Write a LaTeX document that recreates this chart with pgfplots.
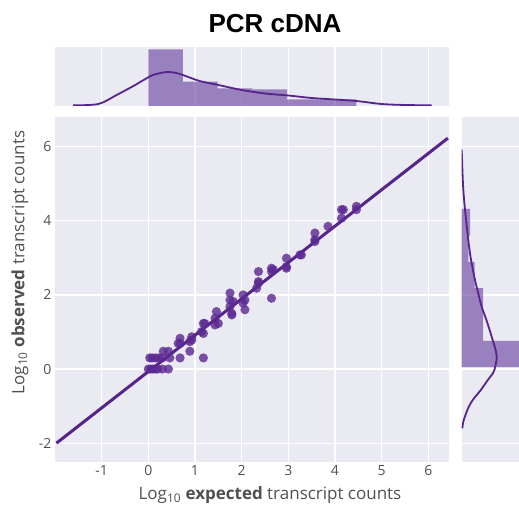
\documentclass[border=0pt]{standalone}
\usepackage{pgfplots}
\pgfplotsset{compat=1.18}
\usepackage{fontspec}
\setmainfont{Open Sans}
\newfontfamily\titlefont{Liberation Sans}

\definecolor{bg}{RGB}{234,234,242}
\definecolor{pline}{RGB}{86,36,138}
\definecolor{pdot}{RGB}{92,40,146}
\definecolor{phist}{RGB}{88,42,148}
\definecolor{ticklab}{RGB}{80,80,80}

\pgfplotsset{
  jp/.style={
    scale only axis,
    axis background/.style={fill=bg},
    axis line style={draw=none},
    major tick length=0pt,
    grid style={white, line width=1.3pt},
    tick label style={font=\fontsize{14}{16}\selectfont, text=ticklab},
  },
}

\begin{document}
\begin{tikzpicture}

% main scatter
\begin{axis}[jp,
  at={(55pt,42.3pt)}, anchor=south west,
  width=394.3pt, height=344.7pt,
  xmin=-2.0, xmax=6.45, ymin=-2.5, ymax=6.8,
  xtick={-1,0,...,6}, xticklabels={-1,0,1,2,3,4,5,6},
  ytick={-2,0,...,6}, yticklabels={-2,0,2,4,6},
  grid=major,
]
\addplot[only marks, color=pdot, mark=*, mark size=4.6pt,
  mark options={solid, fill=pdot, draw=pdot, draw opacity=0, fill opacity=0.8}] coordinates {
  (0.00,0.00) (0.05,0.00) (0.10,0.00) (0.15,0.00) (0.20,0.00) (0.30,0.00) (0.43,0.00)
  (0.03,0.30) (0.08,0.30) (0.15,0.30) (0.22,0.30) (0.30,0.30) (0.46,0.30) (0.68,0.30) (1.18,0.30)
  (0.32,0.48) (0.43,0.48) (0.89,0.48)
  (0.64,0.69) (0.68,0.83) (0.68,0.69) (0.89,0.74) (0.93,0.87) (0.93,0.78)
  (1.14,1.01) (1.18,1.23) (1.18,0.96) (1.21,1.23)
  (1.43,1.37) (1.43,1.19) (1.46,1.55) (1.50,1.23)
  (1.75,2.05) (1.75,1.86) (1.75,1.68) (1.79,1.50) (1.79,1.46) (1.82,1.82)
  (2.03,2.00) (2.07,1.60) (2.07,1.86) (2.03,1.78)
  (2.32,2.18) (2.36,2.36) (2.36,2.63) (2.36,2.32)
  (2.64,2.63) (2.64,2.72) (2.64,1.91) (2.68,2.68)
  (2.96,2.99) (2.96,2.72) (2.96,2.76)
  (3.25,3.08) (3.28,3.08)
  (3.57,3.67) (3.57,3.49) (3.57,3.44)
  (3.85,3.85)
  (4.14,4.30) (4.14,4.07) (4.18,4.30)
  (4.46,4.39) (4.46,4.30)
};
\addplot[pline, line width=3pt] coordinates {(-1.97,-2.0) (6.42,6.23)};
\end{axis}

% top marginal
\begin{axis}[jp,
  at={(55pt,398pt)}, anchor=south west,
  width=394.3pt, height=59.3pt,
  xmin=-2.0, xmax=6.45, ymin=0, ymax=59.3,
  xtick={-1,0,...,6}, xticklabels={},
  ytick=\empty,
  xmajorgrids,
]
\addplot[ybar interval, fill=phist, fill opacity=0.55, draw=none] coordinates {
  (0,56.7) (0.743,24.3) (1.486,17.7) (2.229,16.7) (2.972,6.7) (3.715,6.7) (4.458,0)};
\addplot[pline, line width=1.8pt, smooth] coordinates {
  (-1.61,0.7) (-1.07,2) (-0.68,11) (-0.32,20) (-0.1,26) (0.1,31) (0.39,34)
  (0.6,33) (0.8,30) (1.1,25) (1.5,21) (2.0,16) (2.5,12.5) (3.0,10.5)
  (3.5,8) (4.0,6.5) (4.46,5) (5.0,2) (5.5,1) (6.07,0.7)};
\end{axis}

% right marginal
\begin{axis}[jp,
  at={(461.7pt,42.3pt)}, anchor=south west,
  width=57.3pt, height=344.7pt,
  xmin=0, xmax=57.3, ymin=-2.5, ymax=6.8,
  ytick={-2,0,...,6}, yticklabels={},
  xtick=\empty,
  ymajorgrids,
]
\addplot[xbar interval, fill=phist, fill opacity=0.55, draw=none] coordinates {
  (75,0.05) (21.3,0.76) (21.3,1.47) (13,2.18) (6.6,2.89) (8.3,3.6) (0,4.32)};
\addplot[pline, line width=1.8pt, smooth] coordinates {
  (0,5.92) (0.8,5.3) (1.6,4.84) (3.3,4.3) (6.5,3.5) (9,3.0) (13.3,2.4) (16,2.1)
  (20,1.68) (25,1.3) (30,0.87) (34,0.5) (35,0.3) (33.5,0.06) (31.5,-0.1)
  (26,-0.3) (19,-0.57) (12,-0.8) (7,-1.02) (2,-1.38) (0.6,-1.6)};
\end{axis}

\node[font=\titlefont\bfseries\fontsize{26}{30}\selectfont] at (275pt,480pt) {PCR cDNA};
\node[font=\fontsize{17}{20}\selectfont, text=ticklab] at (270pt,9pt)
  {Log\textsubscript{10} \textbf{expected} transcript counts};
\node[font=\fontsize{17}{20}\selectfont, text=ticklab, rotate=90] at (20pt,241.5pt)
  {Log\textsubscript{10} \textbf{observed} transcript counts};

\pgfresetboundingbox
\path[use as bounding box] (0pt,0pt) rectangle (519pt,504pt);
\end{tikzpicture}
\end{document}
